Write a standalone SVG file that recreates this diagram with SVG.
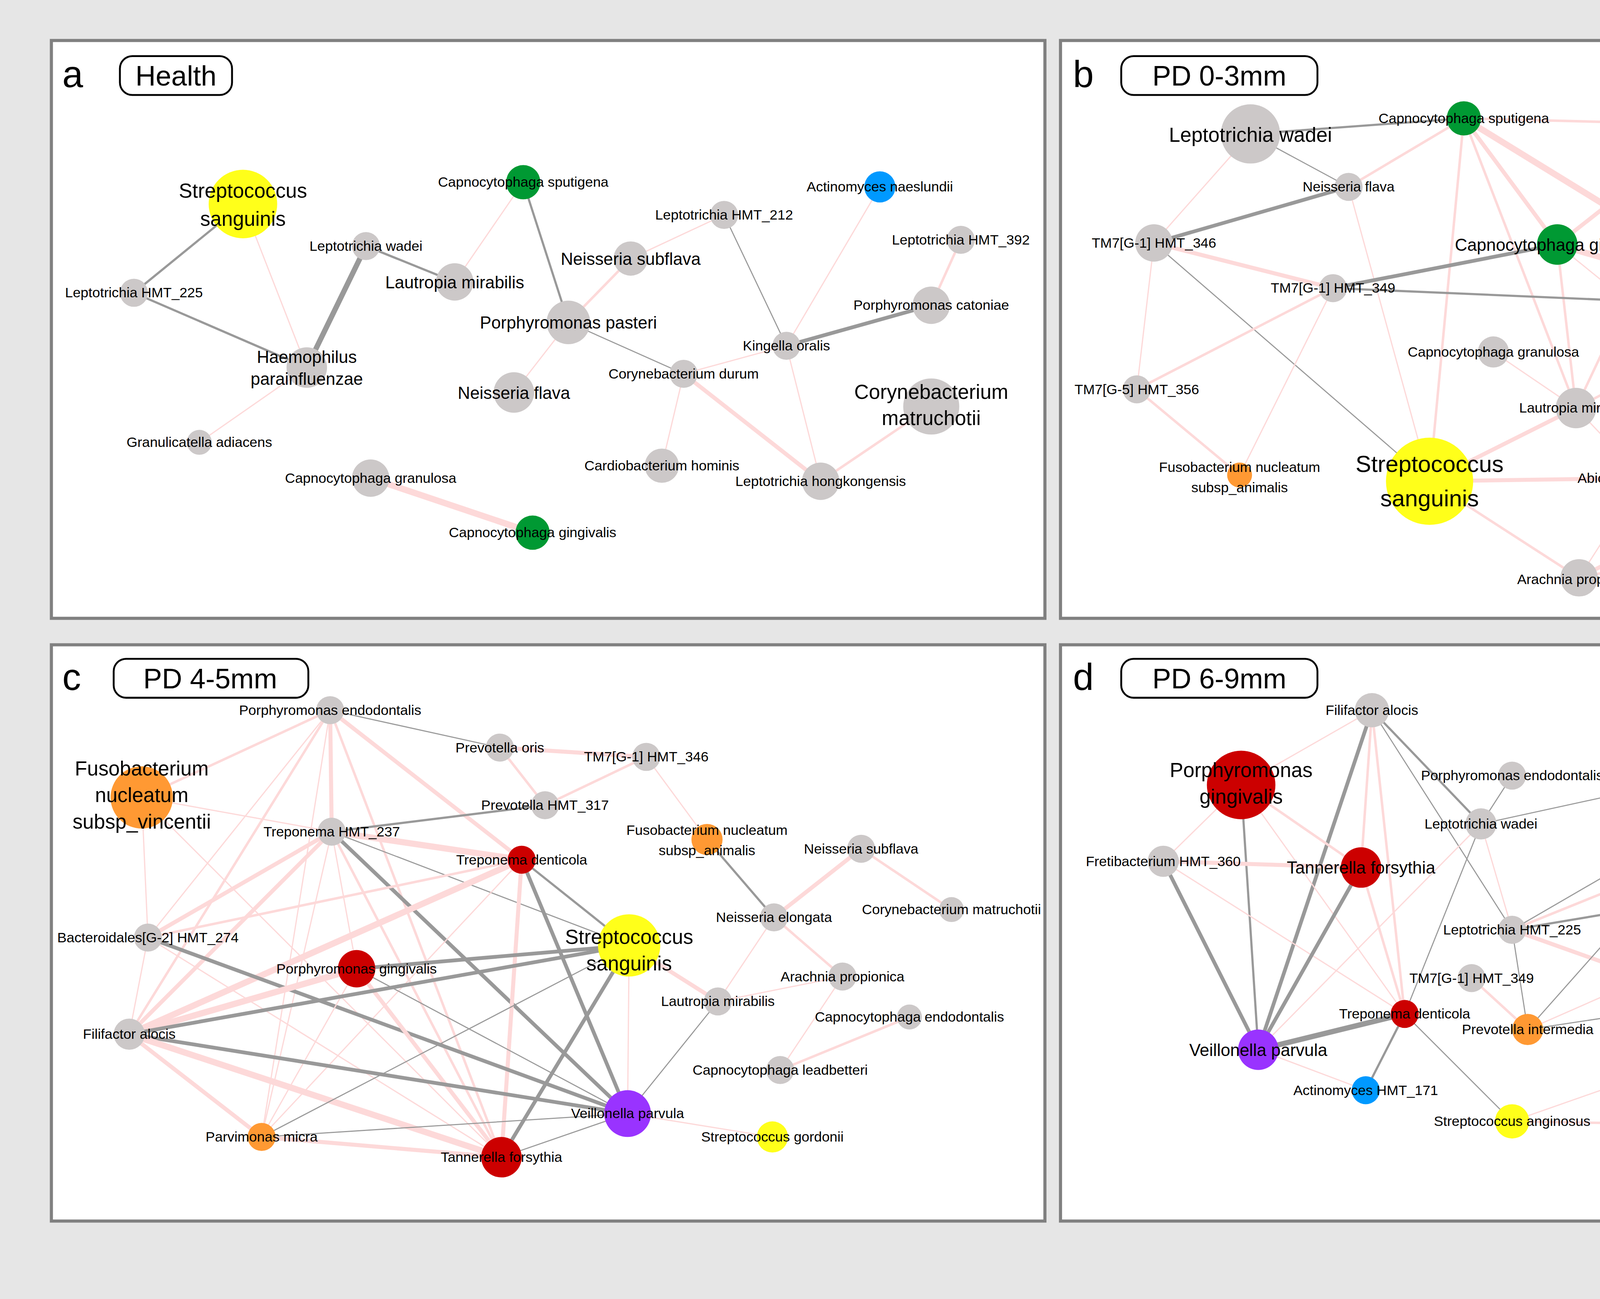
<svg xmlns="http://www.w3.org/2000/svg" width="6251" height="3325" viewBox="0 0 6251 3325">
<style>
.pn{fill:#fff;stroke:#808080;stroke-width:2}
.tb{fill:#fff;stroke:#000;stroke-width:1.2}
text{font-family:"Liberation Sans",Arial,sans-serif;fill:#000;text-anchor:middle}
.s{font-size:9px}.m{font-size:11px}.l{font-size:13px}.xl{font-size:15px}
.pl{font-size:24px;text-anchor:start}.tt{font-size:18px}
.lg{font-size:19px;text-anchor:start;fill:#222}
line{stroke-linecap:round}
.p1{stroke:#fdd9d9;stroke-width:0.8}.p2{stroke:#fdd9d9;stroke-width:1.6}.p3{stroke:#fdd9d9;stroke-width:2.6}.p4{stroke:#fdd9d9;stroke-width:4}
.g1{stroke:#999;stroke-width:0.7}.g2{stroke:#999;stroke-width:1.4}.g3{stroke:#999;stroke-width:2.4}.g4{stroke:#999;stroke-width:3.4}
.R{fill:#cc0000}.O{fill:#ff9933}.Y{fill:#ffff1a}.P{fill:#9933ff}.G{fill:#009933}.B{fill:#0099ff}.N{fill:#ccc8c8}
</style>
<rect width="6251" height="3325" fill="#e6e6e6"/>
<g transform="scale(3.9866)">
<rect class="pn" x="33" y="26" width="638" height="371"/>
<rect class="pn" x="681" y="26" width="639" height="371"/>
<rect class="pn" x="33" y="414" width="638" height="370"/>
<rect class="pn" x="681" y="414" width="639" height="370"/>
<g id="titles">
<text class="pl" x="40" y="56">a</text><rect class="tb" x="77" y="36" width="72" height="25" rx="8"/><text class="tt" x="113" y="55">Health</text>
<text class="pl" x="689" y="56">b</text><rect class="tb" x="720" y="36" width="126" height="25" rx="8"/><text class="tt" x="783" y="55">PD 0-3mm</text>
<text class="pl" x="40" y="443">c</text><rect class="tb" x="73" y="423" width="125" height="25" rx="8"/><text class="tt" x="135" y="442">PD 4-5mm</text>
<text class="pl" x="689" y="443">d</text><rect class="tb" x="720" y="423" width="126" height="25" rx="8"/><text class="tt" x="783" y="442">PD 6-9mm</text>
</g>
<g id="legend">
<circle cx="1359" cy="53" r="11" class="R"/><text class="lg" x="1383" y="60">Red Complex</text>
<circle cx="1359" cy="91" r="11" class="O"/><text class="lg" x="1383" y="98">Orange Complex</text>
<circle cx="1359" cy="129" r="11" class="Y"/><text class="lg" x="1383" y="136">Yellow Complex</text>
<circle cx="1359" cy="167" r="11" class="P"/><text class="lg" x="1383" y="174">Purple Complex</text>
<circle cx="1359" cy="206" r="11" class="G"/><text class="lg" x="1383" y="213">Green Complex</text>
<circle cx="1359" cy="244" r="11" class="B"/><text class="lg" x="1383" y="251">Blue Complex</text>
<circle cx="1359" cy="282" r="11" class="N"/><text class="lg" x="1383" y="289">Other Bacteria</text>
<line x1="1346" y1="323" x2="1372" y2="323" stroke="#fdd9d9" stroke-width="5"/><text class="lg" x="1385" y="330">Positive Correlation</text>
<line x1="1346" y1="355" x2="1372" y2="355" stroke="#999" stroke-width="5"/><text class="lg" x="1385" y="362">Negative Correlation</text>
</g>
<g id="connectors">
<!-- a -->
<line class="g2" x1="156" y1="131" x2="86" y2="188"/><line class="g2" x1="86" y1="188" x2="197" y2="236"/>
<line class="p1" x1="156" y1="131" x2="197" y2="236"/><line class="g4" x1="197" y1="236" x2="235" y2="158"/>
<line class="g2" x1="235" y1="158" x2="292" y2="181"/><line class="p1" x1="292" y1="181" x2="336" y2="117"/>
<line class="g2" x1="336" y1="117" x2="365" y2="207"/><line class="p2" x1="365" y1="207" x2="405" y2="166"/>
<line class="p1" x1="405" y1="166" x2="465" y2="138"/><line class="g1" x1="465" y1="138" x2="505" y2="222"/>
<line class="p1" x1="197" y1="236" x2="128" y2="284"/><line class="p1" x1="365" y1="207" x2="330" y2="252"/>
<line class="g1" x1="365" y1="207" x2="439" y2="240"/><line class="p1" x1="439" y1="240" x2="505" y2="222"/>
<line class="g3" x1="505" y1="222" x2="598" y2="196"/><line class="p2" x1="598" y1="196" x2="617" y2="154"/>
<line class="p1" x1="565" y1="120" x2="505" y2="222"/><line class="p1" x1="505" y1="222" x2="527" y2="309"/>
<line class="p3" x1="439" y1="240" x2="527" y2="309"/><line class="p1" x1="439" y1="240" x2="425" y2="299"/>
<line class="p2" x1="527" y1="309" x2="598" y2="261"/><line class="p4" x1="238" y1="307" x2="342" y2="342"/>
<!-- b -->
<line class="g2" x1="803" y1="86" x2="940" y2="76"/><line class="g1" x1="803" y1="86" x2="866" y2="120"/>
<line class="p1" x1="803" y1="86" x2="741" y2="156"/><line class="p2" x1="866" y1="120" x2="940" y2="76"/>
<line class="g3" x1="866" y1="120" x2="741" y2="156"/><line class="p1" x1="866" y1="120" x2="918" y2="309"/>
<line class="p2" x1="940" y1="76" x2="1098" y2="80"/><line class="p3" x1="940" y1="76" x2="1000" y2="157"/>
<line class="p4" x1="940" y1="76" x2="1137" y2="197"/><line class="p2" x1="940" y1="76" x2="918" y2="309"/>
<line class="p2" x1="940" y1="76" x2="1012" y2="262"/><line class="g3" x1="1000" y1="157" x2="856" y2="185"/>
<line class="p4" x1="1000" y1="157" x2="1137" y2="197"/><line class="p2" x1="1000" y1="157" x2="1012" y2="262"/>
<line class="p1" x1="1000" y1="157" x2="1125" y2="258"/><line class="p3" x1="1098" y1="80" x2="1000" y2="157"/>
<line class="p2" x1="1098" y1="80" x2="1012" y2="262"/><line class="p1" x1="1098" y1="80" x2="1246" y2="251"/>
<line class="p3" x1="741" y1="156" x2="856" y2="185"/><line class="p1" x1="741" y1="156" x2="730" y2="250"/>
<line class="g1" x1="741" y1="156" x2="918" y2="309"/><line class="g2" x1="856" y1="185" x2="1137" y2="197"/>
<line class="p2" x1="856" y1="185" x2="730" y2="250"/><line class="p1" x1="856" y1="185" x2="796" y2="305"/>
<line class="p2" x1="730" y1="250" x2="796" y2="305"/><line class="g1" x1="1199" y1="126" x2="1137" y2="197"/>
<line class="p3" x1="1199" y1="126" x2="1258" y2="157"/><line class="g1" x1="1258" y1="157" x2="1137" y2="197"/>
<line class="p1" x1="1258" y1="157" x2="1246" y2="251"/><line class="p2" x1="1137" y1="197" x2="1012" y2="262"/>
<line class="p1" x1="1137" y1="197" x2="1125" y2="258"/><line class="p1" x1="959" y1="226" x2="1012" y2="262"/>
<line class="p3" x1="1012" y1="262" x2="1125" y2="258"/><line class="p3" x1="1125" y1="258" x2="1246" y2="251"/>
<line class="p2" x1="1125" y1="258" x2="1174" y2="337"/><line class="p3" x1="1012" y1="262" x2="918" y2="309"/>
<line class="p1" x1="1012" y1="262" x2="1055" y2="307"/><line class="p3" x1="918" y1="309" x2="1055" y2="307"/>
<line class="p2" x1="918" y1="309" x2="1014" y2="371"/><line class="p2" x1="1055" y1="307" x2="1246" y2="251"/>
<line class="p2" x1="1055" y1="307" x2="1174" y2="337"/><line class="p1" x1="1055" y1="307" x2="1014" y2="371"/>
<line class="p3" x1="1246" y1="251" x2="1014" y2="371"/><line class="p2" x1="1246" y1="251" x2="1174" y2="337"/>
<line class="p2" x1="1174" y1="337" x2="1014" y2="371"/>
<!-- c -->
<line class="p2" x1="212" y1="456" x2="91" y2="512"/><line class="g1" x1="212" y1="456" x2="321" y2="480"/>
<line class="p3" x1="212" y1="456" x2="213" y2="534"/><line class="p3" x1="212" y1="456" x2="335" y2="552"/>
<line class="p1" x1="212" y1="456" x2="95" y2="602"/><line class="p2" x1="212" y1="456" x2="83" y2="664"/>
<line class="p2" x1="212" y1="456" x2="322" y2="743"/><line class="p1" x1="212" y1="456" x2="168" y2="730"/>
<line class="p3" x1="321" y1="480" x2="415" y2="486"/><line class="p2" x1="321" y1="480" x2="350" y2="517"/>
<line class="p2" x1="415" y1="486" x2="350" y2="517"/><line class="p1" x1="415" y1="486" x2="454" y2="539"/>
<line class="g2" x1="350" y1="517" x2="213" y2="534"/><line class="p1" x1="91" y1="512" x2="213" y2="534"/>
<line class="p1" x1="91" y1="512" x2="95" y2="602"/><line class="p1" x1="91" y1="512" x2="322" y2="743"/>
<line class="p4" x1="213" y1="534" x2="335" y2="552"/><line class="p3" x1="213" y1="534" x2="95" y2="602"/>
<line class="p3" x1="213" y1="534" x2="83" y2="664"/><line class="g3" x1="213" y1="534" x2="403" y2="715"/>
<line class="g1" x1="213" y1="534" x2="404" y2="607"/><line class="p1" x1="213" y1="534" x2="168" y2="730"/>
<line class="p1" x1="213" y1="534" x2="229" y2="622"/><line class="p2" x1="213" y1="534" x2="322" y2="743"/>
<line class="p2" x1="335" y1="552" x2="95" y2="602"/><line class="p4" x1="335" y1="552" x2="83" y2="664"/>
<line class="g2" x1="335" y1="552" x2="404" y2="607"/><line class="g3" x1="335" y1="552" x2="403" y2="715"/>
<line class="p3" x1="335" y1="552" x2="322" y2="743"/><line class="p1" x1="335" y1="552" x2="168" y2="730"/>
<line class="p1" x1="95" y1="602" x2="83" y2="664"/><line class="g3" x1="95" y1="602" x2="403" y2="715"/>
<line class="p1" x1="95" y1="602" x2="322" y2="743"/><line class="g3" x1="229" y1="622" x2="404" y2="607"/>
<line class="p4" x1="229" y1="622" x2="83" y2="664"/><line class="p3" x1="229" y1="622" x2="322" y2="743"/>
<line class="g1" x1="229" y1="622" x2="403" y2="715"/><line class="p1" x1="229" y1="622" x2="168" y2="730"/>
<line class="g3" x1="83" y1="664" x2="404" y2="607"/><line class="g3" x1="83" y1="664" x2="403" y2="715"/>
<line class="p4" x1="83" y1="664" x2="322" y2="743"/><line class="p3" x1="83" y1="664" x2="168" y2="730"/>
<line class="g3" x1="404" y1="607" x2="322" y2="743"/><line class="p1" x1="404" y1="607" x2="403" y2="715"/>
<line class="p3" x1="404" y1="607" x2="461" y2="643"/><line class="g1" x1="404" y1="607" x2="168" y2="730"/>
<line class="g1" x1="461" y1="643" x2="403" y2="715"/><line class="p1" x1="461" y1="643" x2="541" y2="627"/>
<line class="p1" x1="461" y1="643" x2="497" y2="589"/><line class="p2" x1="497" y1="589" x2="541" y2="627"/>
<line class="p3" x1="497" y1="589" x2="553" y2="545"/><line class="g2" x1="497" y1="589" x2="454" y2="539"/>
<line class="p2" x1="553" y1="545" x2="611" y2="584"/><line class="p2" x1="584" y1="653" x2="501" y2="687"/>
<line class="p1" x1="541" y1="627" x2="501" y2="687"/><line class="p1" x1="403" y1="715" x2="496" y2="730"/>
<line class="g1" x1="403" y1="715" x2="322" y2="743"/><line class="g1" x1="403" y1="715" x2="168" y2="730"/>
<line class="p3" x1="168" y1="730" x2="322" y2="743"/>
<!-- d -->
<line class="p1" x1="881" y1="456" x2="797" y2="504"/><line class="g3" x1="881" y1="456" x2="808" y2="674"/>
<line class="p2" x1="881" y1="456" x2="874" y2="557"/><line class="p2" x1="881" y1="456" x2="902" y2="651"/>
<line class="g2" x1="881" y1="456" x2="951" y2="529"/><line class="g1" x1="881" y1="456" x2="971" y2="597"/>
<line class="p1" x1="797" y1="504" x2="747" y2="553"/><line class="p2" x1="797" y1="504" x2="874" y2="557"/>
<line class="g2" x1="797" y1="504" x2="808" y2="674"/><line class="p1" x1="797" y1="504" x2="902" y2="651"/>
<line class="p3" x1="747" y1="553" x2="874" y2="557"/><line class="g3" x1="747" y1="553" x2="808" y2="674"/>
<line class="p1" x1="747" y1="553" x2="902" y2="651"/><line class="g3" x1="874" y1="557" x2="808" y2="674"/>
<line class="p2" x1="874" y1="557" x2="902" y2="651"/><line class="g4" x1="808" y1="674" x2="902" y2="651"/>
<line class="p1" x1="808" y1="674" x2="951" y2="529"/><line class="p1" x1="808" y1="674" x2="877" y2="700"/>
<line class="g2" x1="902" y1="651" x2="877" y2="700"/><line class="g1" x1="902" y1="651" x2="951" y2="529"/>
<line class="g1" x1="902" y1="651" x2="971" y2="720"/><line class="g1" x1="971" y1="498" x2="951" y2="529"/>
<line class="g1" x1="951" y1="529" x2="1066" y2="504"/><line class="p1" x1="951" y1="529" x2="971" y2="597"/>
<line class="p2" x1="971" y1="597" x2="1075" y2="555"/><line class="g1" x1="971" y1="597" x2="1171" y2="481"/>
<line class="g2" x1="971" y1="597" x2="1222" y2="555"/><line class="p3" x1="971" y1="597" x2="1100" y2="643"/>
<line class="g1" x1="971" y1="597" x2="981" y2="661"/><line class="p2" x1="945" y1="628" x2="981" y2="661"/>
<line class="p2" x1="1171" y1="481" x2="1066" y2="504"/><line class="g3" x1="1171" y1="481" x2="1075" y2="555"/>
<line class="g2" x1="1171" y1="481" x2="1100" y2="643"/><line class="p1" x1="1171" y1="481" x2="1222" y2="555"/>
<line class="p1" x1="1171" y1="481" x2="1199" y2="640"/><line class="p2" x1="1066" y1="504" x2="1222" y2="555"/>
<line class="g1" x1="1066" y1="504" x2="1075" y2="555"/><line class="p1" x1="1066" y1="504" x2="1199" y2="640"/>
<line class="g3" x1="1075" y1="555" x2="1222" y2="555"/><line class="g3" x1="1075" y1="555" x2="1199" y2="640"/>
<line class="p2" x1="1075" y1="555" x2="1100" y2="643"/><line class="g1" x1="1075" y1="555" x2="981" y2="661"/>
<line class="g2" x1="1222" y1="555" x2="1100" y2="643"/><line class="p3" x1="1222" y1="555" x2="1199" y2="640"/>
<line class="p1" x1="1222" y1="555" x2="981" y2="661"/><line class="p1" x1="1222" y1="555" x2="1089" y2="722"/>
<line class="g3" x1="1100" y1="643" x2="1199" y2="640"/><line class="g1" x1="1100" y1="643" x2="981" y2="661"/>
<line class="g1" x1="1100" y1="643" x2="1089" y2="722"/><line class="g2" x1="1100" y1="643" x2="1194" y2="697"/>
<line class="p1" x1="1199" y1="640" x2="1264" y2="608"/><line class="p4" x1="1199" y1="640" x2="1089" y2="722"/>
<line class="p2" x1="1199" y1="640" x2="1194" y2="697"/><line class="p1" x1="1199" y1="640" x2="971" y2="720"/>
<line class="p2" x1="1194" y1="697" x2="1089" y2="722"/><line class="p2" x1="971" y1="720" x2="1089" y2="722"/>
</g>
<g id="nodes-a">
<g id="a-ss"><circle cx="156" cy="131" r="22" class="Y"/><text class="l" x="156" y="127">Streptococcus</text><text class="l" x="156" y="145">sanguinis</text></g>
<g id="a-h225"><circle cx="86" cy="188" r="9" class="N"/><text class="s" x="86" y="191">Leptotrichia HMT_225</text></g>
<g id="a-hae"><circle cx="197" cy="236" r="13" class="N"/><text class="m" x="197" y="233">Haemophilus</text><text class="m" x="197" y="247">parainfluenzae</text></g>
<g id="a-gra"><circle cx="128" cy="284" r="8" class="N"/><text class="s" x="128" y="287">Granulicatella adiacens</text></g>
<g id="a-wad"><circle cx="235" cy="158" r="9" class="N"/><text class="s" x="235" y="161">Leptotrichia wadei</text></g>
<g id="a-lau"><circle cx="292" cy="181" r="12" class="N"/><text class="m" x="292" y="185">Lautropia mirabilis</text></g>
<g id="a-spu"><circle cx="336" cy="117" r="11" class="G"/><text class="s" x="336" y="120">Capnocytophaga sputigena</text></g>
<g id="a-pas"><circle cx="365" cy="207" r="14" class="N"/><text class="m" x="365" y="211">Porphyromonas pasteri</text></g>
<g id="a-sub"><circle cx="405" cy="166" r="11" class="N"/><text class="m" x="405" y="170">Neisseria subflava</text></g>
<g id="a-fla"><circle cx="330" cy="252" r="13" class="N"/><text class="m" x="330" y="256">Neisseria flava</text></g>
<g id="a-h212"><circle cx="465" cy="138" r="9" class="N"/><text class="s" x="465" y="141">Leptotrichia HMT_212</text></g>
<g id="a-act"><circle cx="565" cy="120" r="10" class="B"/><text class="s" x="565" y="123">Actinomyces naeslundii</text></g>
<g id="a-h392"><circle cx="617" cy="154" r="9" class="N"/><text class="s" x="617" y="157">Leptotrichia HMT_392</text></g>
<g id="a-cat"><circle cx="598" cy="196" r="12" class="N"/><text class="s" x="598" y="199">Porphyromonas catoniae</text></g>
<g id="a-kin"><circle cx="505" cy="222" r="9" class="N"/><text class="s" x="505" y="225">Kingella oralis</text></g>
<g id="a-dur"><circle cx="439" cy="240" r="9" class="N"/><text class="s" x="439" y="243">Corynebacterium durum</text></g>
<g id="a-mat"><circle cx="598" cy="261" r="18" class="N"/><text class="l" x="598" y="256">Corynebacterium</text><text class="l" x="598" y="273">matruchotii</text></g>
<g id="a-car"><circle cx="425" cy="299" r="11" class="N"/><text class="s" x="425" y="302">Cardiobacterium hominis</text></g>
<g id="a-hon"><circle cx="527" cy="309" r="12" class="N"/><text class="s" x="527" y="312">Leptotrichia hongkongensis</text></g>
<g id="a-cgr"><circle cx="238" cy="307" r="12" class="N"/><text class="s" x="238" y="310">Capnocytophaga granulosa</text></g>
<g id="a-gin"><circle cx="342" cy="342" r="11" class="G"/><text class="s" x="342" y="345">Capnocytophaga gingivalis</text></g>
</g>
<g id="nodes-b">
<g id="b-wad"><circle cx="803" cy="86" r="19" class="N"/><text class="l" x="803" y="91">Leptotrichia wadei</text></g>
<g id="b-spu"><circle cx="940" cy="76" r="11" class="G"/><text class="s" x="940" y="79">Capnocytophaga sputigena</text></g>
<g id="b-cat"><circle cx="1098" cy="80" r="9" class="N"/><text class="s" x="1098" y="83">Porphyromonas catoniae</text></g>
<g id="b-fla"><circle cx="866" cy="120" r="9" class="N"/><text class="s" x="866" y="123">Neisseria flava</text></g>
<g id="b-t346"><circle cx="741" cy="156" r="12" class="N"/><text class="s" x="741" y="159">TM7[G-1] HMT_346</text></g>
<g id="b-gin"><circle cx="1000" cy="157" r="13" class="G"/><text class="m" x="1000" y="161">Capnocytophaga gingivalis</text></g>
<g id="b-fnv"><circle cx="1199" cy="126" r="10" class="O"/><text class="s" x="1199" y="122">Fusobacterium nucleatum</text><text class="s" x="1199" y="135">subsp_vincentii</text></g>
<g id="b-sint"><circle cx="1258" cy="157" r="10" class="Y"/><text class="s" x="1258" y="160">Streptococcus intermedius</text></g>
<g id="b-t349"><circle cx="856" cy="185" r="9" class="N"/><text class="s" x="856" y="188">TM7[G-1] HMT_349</text></g>
<g id="b-elo"><circle cx="1137" cy="197" r="23" class="N"/><text class="l" x="1137" y="202">Neisseria elongata</text></g>
<g id="b-gra"><circle cx="959" cy="226" r="10" class="N"/><text class="s" x="959" y="229">Capnocytophaga granulosa</text></g>
<g id="b-t356"><circle cx="730" cy="250" r="9" class="N"/><text class="s" x="730" y="253">TM7[G-5] HMT_356</text></g>
<g id="b-lau"><circle cx="1012" cy="262" r="13" class="N"/><text class="s" x="1012" y="265">Lautropia mirabilis</text></g>
<g id="b-act"><circle cx="1125" cy="258" r="10" class="B"/><text class="s" x="1125" y="261">Actinomyces naeslundii</text></g>
<g id="b-h225"><circle cx="1246" cy="251" r="9" class="N"/><text class="s" x="1246" y="254">Leptotrichia HMT_225</text></g>
<g id="b-fna"><circle cx="796" cy="305" r="8" class="O"/><text class="s" x="796" y="303">Fusobacterium nucleatum</text><text class="s" x="796" y="316">subsp_animalis</text></g>
<g id="b-ss"><circle cx="918" cy="309" r="28" class="Y"/><text class="xl" x="918" y="303">Streptococcus</text><text class="xl" x="918" y="325">sanguinis</text></g>
<g id="b-abi"><circle cx="1055" cy="307" r="9" class="N"/><text class="s" x="1055" y="310">Abiotrophia defectiva</text></g>
<g id="b-cor"><circle cx="1174" cy="337" r="12" class="N"/><text class="s" x="1174" y="333">Corynebacterium</text><text class="s" x="1174" y="347">matruchotii</text></g>
<g id="b-ara"><circle cx="1014" cy="371" r="12" class="N"/><text class="s" x="1014" y="375">Arachnia propionica</text></g>
</g>
<g id="nodes-c">
<g id="c-pe"><circle cx="212" cy="456" r="9" class="N"/><text class="s" x="212" y="459">Porphyromonas endodontalis</text></g>
<g id="c-oris"><circle cx="321" cy="480" r="9" class="N"/><text class="s" x="321" y="483">Prevotella oris</text></g>
<g id="c-t346"><circle cx="415" cy="486" r="9" class="N"/><text class="s" x="415" y="489">TM7[G-1] HMT_346</text></g>
<g id="c-fnv"><circle cx="91" cy="512" r="20" class="O"/><text class="l" x="91" y="498">Fusobacterium</text><text class="l" x="91" y="515">nucleatum</text><text class="l" x="91" y="532">subsp_vincentii</text></g>
<g id="c-p317"><circle cx="350" cy="517" r="9" class="N"/><text class="s" x="350" y="520">Prevotella HMT_317</text></g>
<g id="c-t237"><circle cx="213" cy="534" r="9" class="N"/><text class="s" x="213" y="537">Treponema HMT_237</text></g>
<g id="c-fna"><circle cx="454" cy="539" r="10" class="O"/><text class="s" x="454" y="536">Fusobacterium nucleatum</text><text class="s" x="454" y="549">subsp_animalis</text></g>
<g id="c-td"><circle cx="335" cy="552" r="9" class="R"/><text class="s" x="335" y="555">Treponema denticola</text></g>
<g id="c-sub"><circle cx="553" cy="545" r="9" class="N"/><text class="s" x="553" y="548">Neisseria subflava</text></g>
<g id="c-cor"><circle cx="611" cy="584" r="8" class="N"/><text class="s" x="611" y="587">Corynebacterium matruchotii</text></g>
<g id="c-elo"><circle cx="497" cy="589" r="9" class="N"/><text class="s" x="497" y="592">Neisseria elongata</text></g>
<g id="c-bac"><circle cx="95" cy="602" r="9" class="N"/><text class="s" x="95" y="605">Bacteroidales[G-2] HMT_274</text></g>
<g id="c-ss"><circle cx="404" cy="607" r="20" class="Y"/><text class="l" x="404" y="606">Streptococcus</text><text class="l" x="404" y="623">sanguinis</text></g>
<g id="c-pg"><circle cx="229" cy="622" r="12" class="R"/><text class="s" x="229" y="625">Porphyromonas gingivalis</text></g>
<g id="c-ara"><circle cx="541" cy="627" r="9" class="N"/><text class="s" x="541" y="630">Arachnia propionica</text></g>
<g id="c-lau"><circle cx="461" cy="643" r="9" class="N"/><text class="s" x="461" y="646">Lautropia mirabilis</text></g>
<g id="c-ce"><circle cx="584" cy="653" r="8" class="N"/><text class="s" x="584" y="656">Capnocytophaga endodontalis</text></g>
<g id="c-fil"><circle cx="83" cy="664" r="10" class="N"/><text class="s" x="83" y="667">Filifactor alocis</text></g>
<g id="c-lead"><circle cx="501" cy="687" r="9" class="N"/><text class="s" x="501" y="690">Capnocytophaga leadbetteri</text></g>
<g id="c-vp"><circle cx="403" cy="715" r="15" class="P"/><text class="s" x="403" y="718">Veillonella parvula</text></g>
<g id="c-pm"><circle cx="168" cy="730" r="9" class="O"/><text class="s" x="168" y="733">Parvimonas micra</text></g>
<g id="c-gor"><circle cx="496" cy="730" r="10" class="Y"/><text class="s" x="496" y="733">Streptococcus gordonii</text></g>
<g id="c-tf"><circle cx="322" cy="743" r="13" class="R"/><text class="s" x="322" y="746">Tannerella forsythia</text></g>
</g>
<g id="nodes-d">
<g id="d-fil"><circle cx="881" cy="456" r="11" class="N"/><text class="s" x="881" y="459">Filifactor alocis</text></g>
<g id="d-pg"><circle cx="797" cy="504" r="22" class="R"/><text class="l" x="797" y="499">Porphyromonas</text><text class="l" x="797" y="516">gingivalis</text></g>
<g id="d-sint"><circle cx="1171" cy="481" r="10" class="Y"/><text class="s" x="1171" y="484">Streptococcus intermedius</text></g>
<g id="d-pe"><circle cx="971" cy="498" r="9" class="N"/><text class="s" x="971" y="501">Porphyromonas endodontalis</text></g>
<g id="d-pm"><circle cx="1066" cy="504" r="11" class="O"/><text class="s" x="1066" y="507">Parvimonas micra</text></g>
<g id="d-wad"><circle cx="951" cy="529" r="10" class="N"/><text class="s" x="951" y="532">Leptotrichia wadei</text></g>
<g id="d-fre"><circle cx="747" cy="553" r="10" class="N"/><text class="s" x="747" y="556">Fretibacterium HMT_360</text></g>
<g id="d-tf"><circle cx="874" cy="557" r="13" class="R"/><text class="m" x="874" y="561">Tannerella forsythia</text></g>
<g id="d-nsub"><circle cx="1075" cy="555" r="13" class="N"/><text class="m" x="1075" y="559">Neisseria subflava</text></g>
<g id="d-pst"><circle cx="1222" cy="555" r="12" class="N"/><text class="s" x="1222" y="551">Peptostreptococcus</text><text class="s" x="1222" y="565">stomatis</text></g>
<g id="d-t346"><circle cx="1264" cy="608" r="13" class="N"/><text class="m" x="1264" y="612">TM7[G-1] HMT_346</text></g>
<g id="d-h225"><circle cx="971" cy="597" r="9" class="N"/><text class="s" x="971" y="600">Leptotrichia HMT_225</text></g>
<g id="d-t349"><circle cx="945" cy="628" r="9" class="N"/><text class="s" x="945" y="631">TM7[G-1] HMT_349</text></g>
<g id="d-cor"><circle cx="1100" cy="643" r="13" class="N"/><text class="m" x="1100" y="639">Corynebacterium</text><text class="m" x="1100" y="654">matruchotii</text></g>
<g id="d-dia"><circle cx="1199" cy="640" r="9" class="N"/><text class="s" x="1199" y="643">Dialister invisus</text></g>
<g id="d-td"><circle cx="902" cy="651" r="9" class="R"/><text class="s" x="902" y="654">Treponema denticola</text></g>
<g id="d-pint"><circle cx="981" cy="661" r="10" class="O"/><text class="s" x="981" y="664">Prevotella intermedia</text></g>
<g id="d-vp"><circle cx="808" cy="674" r="13" class="P"/><text class="m" x="808" y="678">Veillonella parvula</text></g>
<g id="d-act"><circle cx="877" cy="700" r="9" class="B"/><text class="s" x="877" y="703">Actinomyces HMT_171</text></g>
<g id="d-t356"><circle cx="1194" cy="697" r="9" class="N"/><text class="s" x="1194" y="700">TM7[G-5] HMT_356</text></g>
<g id="d-sang"><circle cx="971" cy="720" r="11" class="Y"/><text class="s" x="971" y="723">Streptococcus anginosus</text></g>
<g id="d-fna"><circle cx="1089" cy="722" r="12" class="O"/><text class="s" x="1089" y="719">Fusobacterium nucleatum</text><text class="s" x="1089" y="732">subsp_animalis</text></g>
</g>
</g>
</svg>
